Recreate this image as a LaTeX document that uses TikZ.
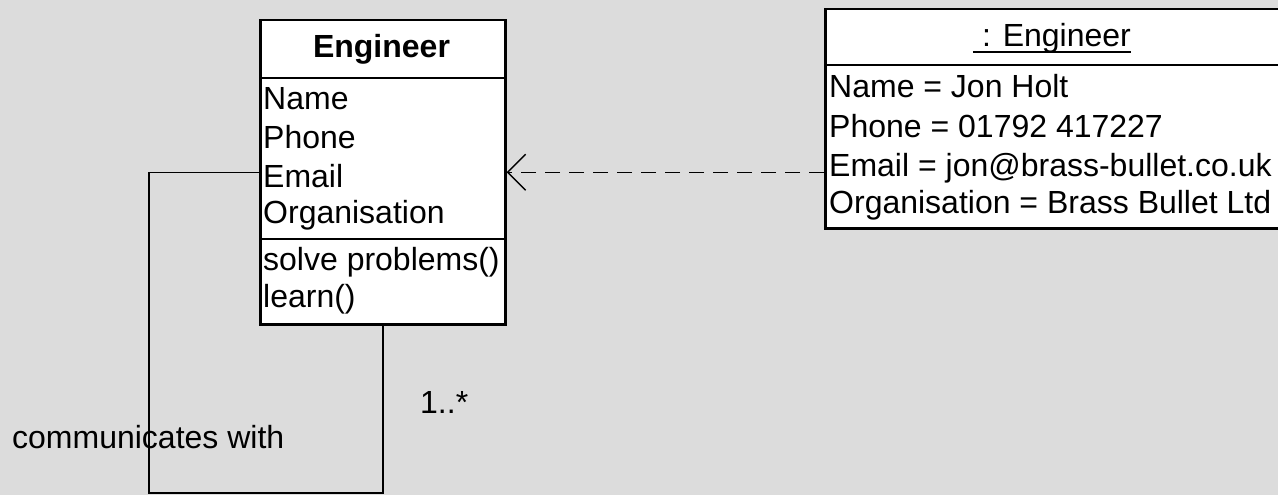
\documentclass[tikz,border=0pt]{standalone}
\usepackage{fontspec}
\setmainfont{Liberation Sans}
\usetikzlibrary{arrows.meta}
\definecolor{bgcol}{HTML}{DCDCDC}
\tikzset{
  box/.style={draw=black, fill=white, line width=2.5pt, inner sep=0pt, anchor=north west},
  txt/.style={inner sep=0pt, anchor=base west, font=\fontsize{32}{38}\selectfont},
  ctxt/.style={inner sep=0pt, anchor=base, font=\fontsize{32}{38}\selectfont},
  conn/.style={draw=black, line width=1.5pt},
  dep/.style={conn, dash pattern=on 15pt off 9pt, -{Straight Barb[length=18pt,width=36pt,line width=1.5pt]}},
}
\begin{document}
\begin{tikzpicture}[x=1pt,y=-1pt]
\fill[bgcol] (0,0) rectangle (1278,495);
\useasboundingbox (0,0) rectangle (1278,495);
% class box
\node[box, minimum width=245pt, minimum height=304pt] (cls) at (259,19) {};
\draw[line width=2.5pt] (259,78) -- (504,78);
\draw[line width=2.5pt] (259,239) -- (504,239);
\node[ctxt, font=\fontsize{32}{38}\selectfont\bfseries] (clsname) at (381.5,58) {Engineer};
\node[txt] (a1) at (263,110) {Name};
\node[txt] (a2) at (263,148) {Phone};
\node[txt] (a3) at (263,187) {Email};
\node[txt] (a4) at (263,223) {Organisation};
\node[txt] (m1) at (263,270) {solve problems()};
\node[txt] (m2) at (263,307) {learn()};
% object box
\node[box, minimum width=458pt, minimum height=219pt] (obj) at (824,8) {};
\draw[line width=2.5pt] (824,65) -- (1282,65);
\node[ctxt] (objname) at (1052,47) {\ : Engineer};
\draw[line width=1.3pt] ([yshift=-5pt]objname.base west) -- ([yshift=-5pt]objname.base east);
\node[txt] (o1) at (829,98) {Name = Jon Holt};
\node[txt] (o2) at (829,137) {Phone = 01792 417227};
\node[txt] (o3) at (829,176) {Email = jon@brass-bullet.co.uk};
\node[txt] (o4) at (829,213) {Organisation = Brass Bullet Ltd};
% connectors
\draw[conn] (cls.west) -| (149,493) -| (cls.south);
\draw[dep] (obj.west |- cls.east) -- (cls.east);
% labels
\node[txt] (lbl) at (12,448) {communicates with};
\node[txt] (mult) at (420,413) {1..*};
\end{tikzpicture}
\end{document}
